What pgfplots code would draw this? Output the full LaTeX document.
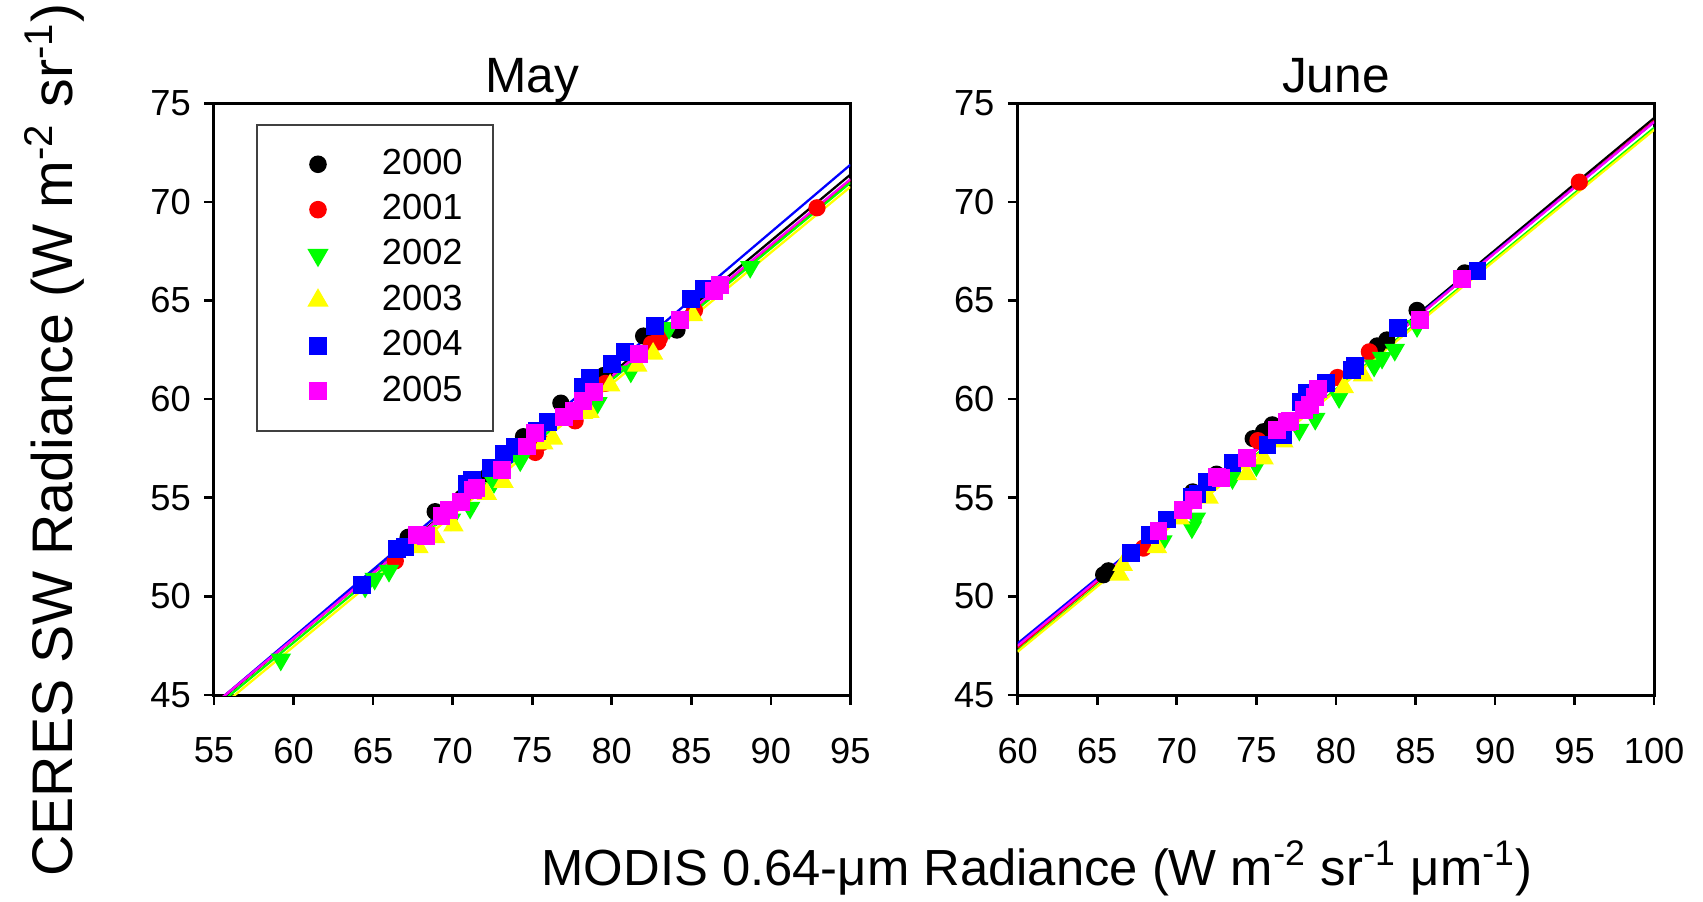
\documentclass[border=0pt]{standalone}
\usepackage{fontspec}
\setmainfont{Liberation Sans}
\usepackage{pgfplots}
\pgfplotsset{compat=1.18}

\definecolor{cblk}{RGB}{0,0,0}
\definecolor{cred}{RGB}{255,0,0}
\definecolor{cgrn}{RGB}{0,255,0}
\definecolor{cyel}{RGB}{255,255,0}
\definecolor{cblu}{RGB}{0,0,255}
\definecolor{cmag}{RGB}{255,0,255}

\pgfplotsset{
  panel/.style={
    width=5.86cm, height=5.45cm, scale only axis,
    ymin=45, ymax=75, ytick={45,50,...,75},
    tick align=outside, xtick pos=bottom, ytick pos=left,
    major tick length=0.09cm,
    axis line style={line width=0.8pt},
    every tick/.style={black, line width=0.7pt},
    tick label style={font=\fontsize{9.5}{11}\selectfont},
    /pgf/number format/assume math mode=true,
    xticklabel style={yshift=-0.18cm},
    title style={font=\fontsize{13}{15}\selectfont, at={(0.5,1)}, anchor=base, yshift=-0.11cm},
  },
  fit/.style={no marks, line width=0.6pt, forget plot},
  y0/.style={only marks, cblk, mark=*, mark size=2.05pt},
  y1/.style={only marks, cred, mark=*, mark size=2.05pt},
  y2/.style={only marks, cgrn, mark=triangle*, mark size=2.7pt, mark options={rotate=180}},
  y3/.style={only marks, cyel, mark=triangle*, mark size=2.7pt},
  y4/.style={only marks, cblu, mark=square*, mark size=2.15pt},
  y5/.style={only marks, cmag, mark=square*, mark size=2.15pt},
}

\begin{document}
\begin{tikzpicture}
\useasboundingbox (-1.97,-1.90) rectangle (13.71,6.40);

% ---------------- May ----------------
\begin{axis}[panel, name=may, at={(0,0)}, anchor=south west,
  xmin=55, xmax=95, xtick={55,60,...,95},
  title={May},
  legend cell align=left,
  legend image code/.code={\path (0cm,0cm) (0.55cm,0cm); \draw[#1] plot coordinates {(0.27cm,0cm)};},
  legend style={at={(rel axis cs:0.0666,0.965)}, anchor=north west,
    draw=black!75, line width=0.5pt, inner xsep=0.28cm, inner ysep=0.22cm,
    row sep=0.132cm, column sep=0.30cm, nodes={inner sep=0pt},
    font=\fontsize{9.5}{11}\selectfont},
]
\addplot[fit, cblk] coordinates {(55,44.49) (95,71.38)};
\addplot[fit, cred] coordinates {(55,44.53) (95,71.10)};
\addplot[fit, cgrn] coordinates {(55,44.33) (95,70.97)};
\addplot[fit, cyel] coordinates {(55,44.13) (95,70.76)};
\addplot[fit, cblu] coordinates {(55,44.52) (95,71.88)};
\addplot[fit, cmag] coordinates {(55,44.53) (95,71.15)};

\addplot[y0] coordinates {(67.2,53.0) (68.9,54.3) (70.6,55.0) (72.3,56.2) (74.45,58.1) (76.8,59.8) (79.5,61.2) (82.0,63.2) (84.1,63.5)};
\addlegendentry{2000}
\addplot[y1] coordinates {(66.4,51.8) (73.0,56.0) (75.2,57.3) (75.6,57.8) (77.7,58.9) (79.6,60.8) (82.5,62.8) (83.0,63.1) (82.9,62.9) (85.2,64.5) (92.9,69.7)};
\addlegendentry{2001}
\addplot[y2] coordinates {(59.2,46.8) (64.5,50.5) (65.1,50.9) (66.0,51.3) (69.9,53.9) (71.1,54.5) (72.6,55.8) (74.25,56.9) (79.1,59.8) (81.2,61.4) (83.6,63.6) (88.7,66.7)};
\addlegendentry{2002}
\addplot[y3] coordinates {(67.85,52.5) (68.9,53.0) (70.05,53.6) (72.15,55.2) (73.2,55.8) (75.7,57.75) (76.3,58.0) (78.2,59.3) (78.6,59.35) (79.9,60.7) (81.6,61.7) (82.6,62.3) (85.1,64.25)};
\addlegendentry{2003}
\addplot[y4] coordinates {(64.3,50.6) (66.5,52.4) (67.0,52.5) (70.9,55.7) (71.2,55.9) (72.4,56.5) (73.2,57.2) (73.9,57.6) (75.3,58.4) (76.0,58.85) (78.2,60.6) (78.65,61.05) (80.0,61.8) (80.85,62.4) (82.7,63.7) (85.0,65.1) (85.8,65.6)};
\addlegendentry{2004}
\addplot[y5] coordinates {(67.75,53.1) (68.3,53.05) (69.3,54.1) (69.8,54.4) (70.5,54.8) (71.3,55.4) (71.5,55.5) (73.1,56.4) (74.7,57.6) (75.2,58.3) (77.0,59.1) (77.6,59.4) (78.2,59.9) (78.9,60.35) (81.7,62.3) (84.3,64.0) (86.4,65.5) (86.8,65.8)};
\addlegendentry{2005}
\end{axis}

% ---------------- June ----------------
\begin{axis}[panel, name=june, at={(7.40cm,0)}, anchor=south west,
  xmin=60, xmax=100, xtick={60,65,...,100},
  title={June},
]
\addplot[fit, cblk] coordinates {(60,47.45) (100,74.25)};
\addplot[fit, cred] coordinates {(60,47.40) (100,74.10)};
\addplot[fit, cgrn] coordinates {(60,47.25) (100,73.75)};
\addplot[fit, cyel] coordinates {(60,47.20) (100,73.65)};
\addplot[fit, cblu] coordinates {(60,47.62) (100,74.05)};
\addplot[fit, cmag] coordinates {(60,47.50) (100,74.05)};

\addplot[y0] coordinates {(65.4,51.1) (65.7,51.3) (71.0,55.3) (72.5,56.2) (74.8,58.0) (75.45,58.35) (76.0,58.7) (82.6,62.7) (83.2,63.0) (85.1,64.5) (88.1,66.4)};
\addplot[y1] coordinates {(67.9,52.45) (75.1,57.9) (80.1,61.1) (82.1,62.4) (95.3,71.0)};
\addplot[y2] coordinates {(69.1,52.8) (70.95,53.5) (71.2,53.95) (73.5,56.0) (75.0,56.65) (77.7,58.45) (78.7,59.0) (80.2,60.1) (82.4,61.7) (82.9,62.1) (83.7,62.5) (85.1,63.7)};
\addplot[y3] coordinates {(66.4,51.1) (66.6,51.6) (68.75,52.5) (70.2,53.95) (72.0,55.0) (74.4,56.2) (75.45,57.0) (76.7,57.85) (80.5,60.6) (81.7,61.2)};
\addplot[y4] coordinates {(67.1,52.2) (68.3,53.1) (69.4,53.9) (70.95,55.05) (71.3,55.2) (71.9,55.8) (73.5,56.75) (75.7,57.7) (76.7,58.2) (77.8,59.85) (78.2,60.3) (79.4,60.8) (81.0,61.5) (81.2,61.7) (83.9,63.6) (88.9,66.5)};
\addplot[y5] coordinates {(68.85,53.3) (70.4,54.4) (71.05,54.9) (72.5,56.05) (72.8,56.0) (74.4,57.0) (76.3,58.45) (76.9,58.85) (77.1,58.9) (78.0,59.45) (78.4,59.7) (78.7,60.1) (78.9,60.5) (85.3,64.0) (87.9,66.1)};
\end{axis}

\node[rotate=90, font=\fontsize{15}{17}\selectfont] at ([xshift=-1.47cm, yshift=2.35cm]may.south west)
  {CERES SW Radiance (W m\textsuperscript{-2} sr\textsuperscript{-1})};
\node[anchor=base, font=\fontsize{13.3}{15}\selectfont] at ([xshift=0.18cm, yshift=-1.75cm]june.south west)
  {MODIS 0.64-μm Radiance (W m\textsuperscript{-2} sr\textsuperscript{-1} μm\textsuperscript{-1})};
\end{tikzpicture}
\end{document}
